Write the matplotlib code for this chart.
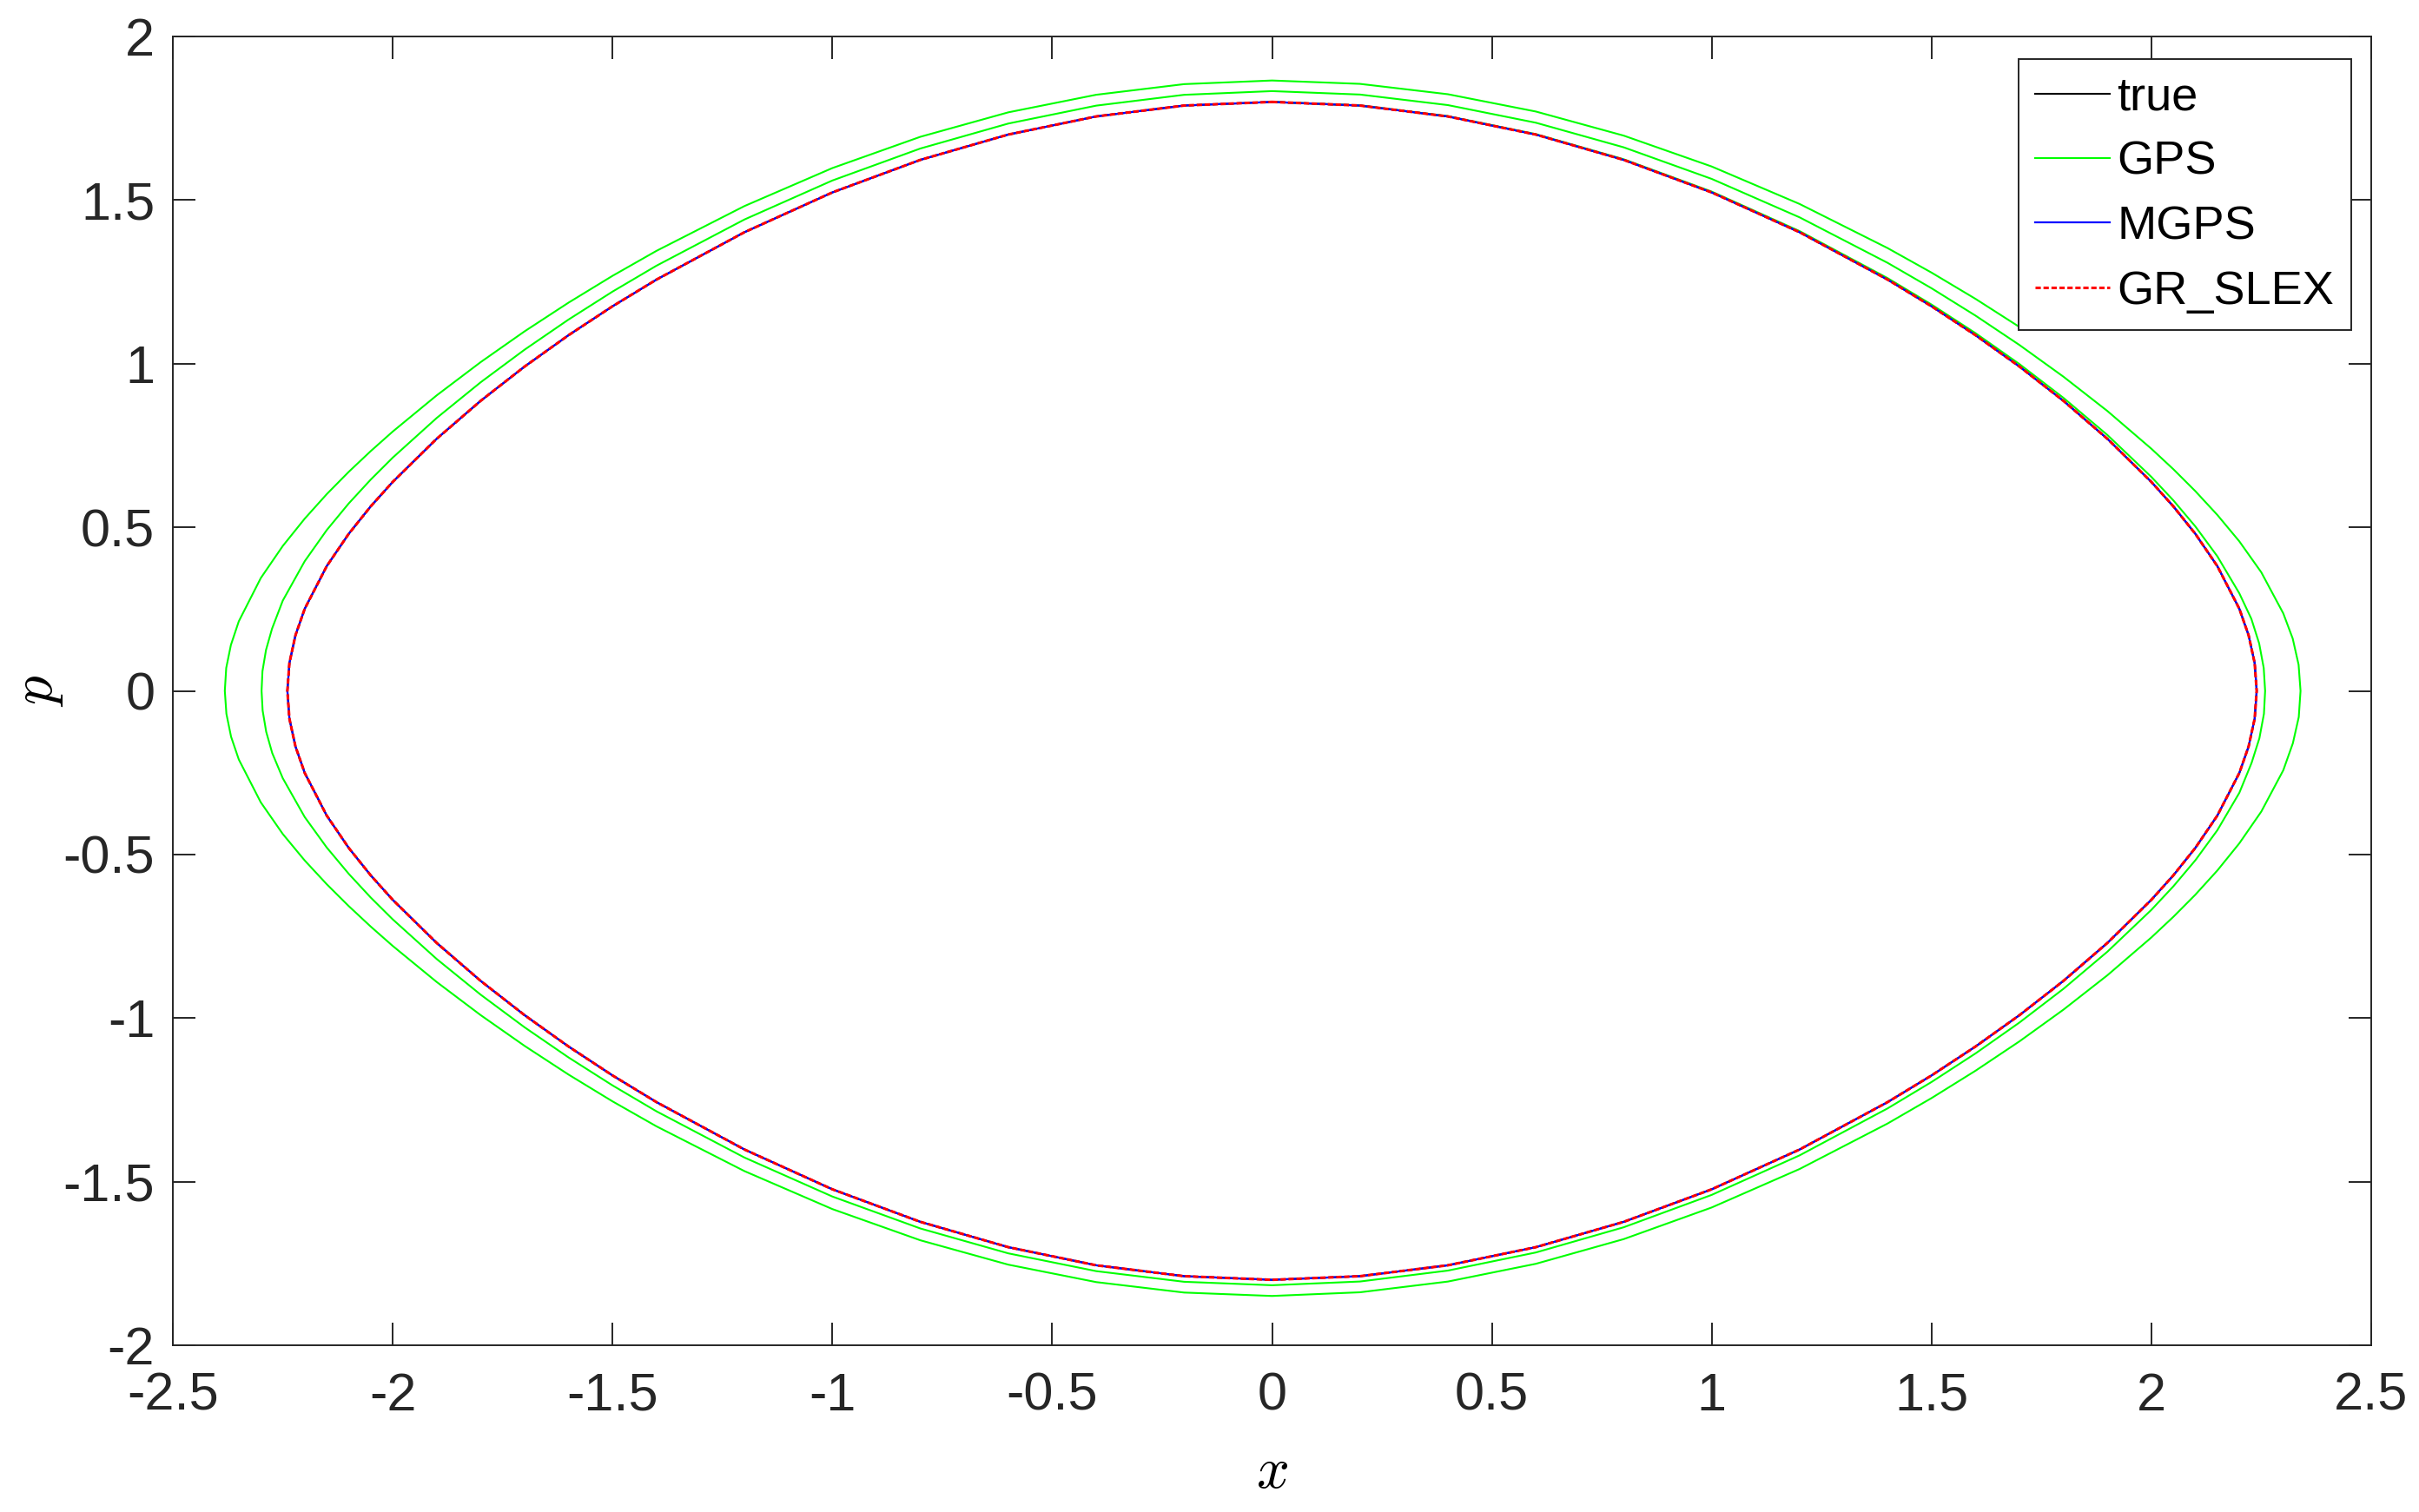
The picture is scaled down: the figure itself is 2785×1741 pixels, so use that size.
import matplotlib
matplotlib.use('Agg')
import matplotlib.pyplot as plt

# ---------------- data ----------------
# true orbit, closed loop, clockwise from the top point (0, 1.8)
true_x = [0, 0.2, 0.4, 0.6, 0.8, 1.0, 1.2, 1.4, 1.5, 1.6, 1.7, 1.8, 1.9, 2.0, 2.05, 2.1, 2.15, 2.2, 2.2211, 2.2349, 2.2395,
          2.2349, 2.2211, 2.2, 2.15, 2.1, 2.05, 2.0, 1.9, 1.8, 1.7, 1.6, 1.5, 1.4, 1.2, 1.0, 0.8, 0.6, 0.4, 0.2, 0,
          -0.2, -0.4, -0.6, -0.8, -1.0, -1.2, -1.4, -1.5, -1.6, -1.7, -1.8, -1.9, -2.0, -2.05, -2.1, -2.15, -2.2, -2.2211, -2.2349, -2.2395,
          -2.2349, -2.2211, -2.2, -2.15, -2.1, -2.05, -2.0, -1.9, -1.8, -1.7, -1.6, -1.5, -1.4, -1.2, -1.0, -0.8, -0.6, -0.4, -0.2, 0]
true_p = [1.8, 1.78889, 1.7556, 1.7002, 1.62278, 1.52335, 1.40168, 1.25695, 1.17536, 1.08701, 0.99112, 0.88634, 0.77034, 0.63852, 0.56379, 0.4799, 0.38117, 0.25099, 0.17, 0.085, 0,
          -0.085, -0.17, -0.25099, -0.38117, -0.4799, -0.56379, -0.63852, -0.77034, -0.88634, -0.99112, -1.08701, -1.17536, -1.25695, -1.40168, -1.52335, -1.62278, -1.7002, -1.7556, -1.78889, -1.8,
          -1.78889, -1.7556, -1.7002, -1.62278, -1.52335, -1.40168, -1.25695, -1.17536, -1.08701, -0.99112, -0.88634, -0.77034, -0.63852, -0.56379, -0.4799, -0.38117, -0.25099, -0.17, -0.085, 0,
          0.085, 0.17, 0.25099, 0.38117, 0.4799, 0.56379, 0.63852, 0.77034, 0.88634, 0.99112, 1.08701, 1.17536, 1.25695, 1.40168, 1.52335, 1.62278, 1.7002, 1.7556, 1.78889, 1.8]

# MGPS and GR_SLEX lie on top of the true orbit in the picture
mgps_x = list(true_x)
mgps_p = list(true_p)
grslex_x = list(true_x)
grslex_p = list(true_p)

# GPS: slowly outward drifting spiral, clockwise from (0, 1.8), ends near (1.71, 1.10)
gps_x = [0, 0.2, 0.4, 0.6, 0.8, 1.0, 1.2, 1.4, 1.5, 1.6, 1.7, 1.8, 1.9, 2.0, 2.05, 2.1, 2.15, 2.2, 2.2274, 2.2451, 2.2555, 2.2587,
         2.256, 2.2456, 2.2279, 2.2, 2.15, 2.1, 2.05, 2.0, 1.9, 1.8, 1.7, 1.6, 1.5, 1.4, 1.2, 1.0, 0.8, 0.6, 0.4, 0.2, 0,
         -0.2, -0.4, -0.6, -0.8, -1.0, -1.2, -1.4, -1.5, -1.6, -1.7, -1.8, -1.9, -2.0, -2.05, -2.1, -2.15, -2.2, -2.25, -2.274, -2.2877, -2.2958, -2.2982,
         -2.2962, -2.2881, -2.2744, -2.25, -2.2, -2.15, -2.1, -2.05, -2.0, -1.9, -1.8, -1.7, -1.6, -1.5, -1.4, -1.2, -1.0, -0.8, -0.6, -0.4, -0.2, 0,
         0.2, 0.4, 0.6, 0.8, 1.0, 1.2, 1.4, 1.5, 1.6, 1.7, 1.8, 1.9, 2.0, 2.05, 2.1, 2.15, 2.2, 2.25, 2.3, 2.3214, 2.3348, 2.3392,
         2.3352, 2.3218, 2.3, 2.25, 2.2, 2.15, 2.1, 2.05, 2.0, 1.9, 1.8, 1.7, 1.6, 1.5, 1.4, 1.2, 1.0, 0.8, 0.6, 0.4, 0.2, 0,
         -0.2, -0.4, -0.6, -0.8, -1.0, -1.2, -1.4, -1.5, -1.6, -1.7, -1.8, -1.9, -2.0, -2.05, -2.1, -2.15, -2.2, -2.25, -2.3, -2.35, -2.3676, -2.3782, -2.3818,
         -2.3786, -2.368, -2.35, -2.3, -2.25, -2.2, -2.15, -2.1, -2.05, -2.0, -1.9, -1.8, -1.7, -1.6, -1.5, -1.4, -1.2, -1.0, -0.8, -0.6, -0.4, -0.2, 0,
         0.2, 0.4, 0.6, 0.8, 1.0, 1.2, 1.4, 1.5, 1.6, 1.71]
gps_p = [1.8, 1.7893, 1.75645, 1.70152, 1.62464, 1.52587, 1.40505, 1.26149, 1.18068, 1.0933, 0.99864, 0.89552, 0.78193, 0.65384, 0.58212, 0.50256, 0.41127, 0.29809, 0.22, 0.145, 0.07, 0,
         -0.07, -0.145, -0.22, -0.31167, -0.42594, -0.51773, -0.59737, -0.66926, -0.79713, -0.91063, -1.01358, -1.1081, -1.19539, -1.27612, -1.4196, -1.54043, -1.63932, -1.71645, -1.77176, -1.80517, -1.81659,
         -1.80599, -1.77344, -1.71906, -1.643, -1.54541, -1.42625, -1.28506, -1.20582, -1.12041, -1.02825, -0.92842, -0.8194, -0.69822, -0.63155, -0.55908, -0.47869, -0.38582, -0.26693, -0.19, -0.125, -0.06, 0,
         0.06, 0.125, 0.19, 0.27578, 0.39641, 0.49135, 0.57276, 0.64565, 0.71268, 0.83392, 0.94299, 1.04275, 1.13485, 1.22023, 1.29942, 1.44058, 1.55979, 1.65752, 1.73384, 1.78861, 1.82172, 1.83303,
         1.82253, 1.79028, 1.73642, 1.66116, 1.5647, 1.44713, 1.30819, 1.23045, 1.14687, 1.05702, 0.96019, 0.85523, 0.73994, 0.67739, 0.61038, 0.53773, 0.45701, 0.36229, 0.23674, 0.16, 0.08, 0,
         -0.08, -0.16, -0.24259, -0.36886, -0.46598, -0.54902, -0.62294, -0.69055, -0.7536, -0.86915, -0.97429, -1.07114, -1.16098, -1.24457, -1.32231, -1.46125, -1.5789, -1.67552, -1.75105, -1.80531, -1.83811, -1.84932,
         -1.83892, -1.80696, -1.75361, -1.67912, -1.58376, -1.46771, -1.33093, -1.25459, -1.17274, -1.08503, -0.99094, -0.88962, -0.77943, -0.72032, -0.6577, -0.59089, -0.51852, -0.43733, -0.34066, -0.2097, -0.14, -0.07, 0,
         0.07, 0.14, 0.21254, 0.34474, 0.44278, 0.52644, 0.60119, 0.66937, 0.7327, 0.79241, 0.90301, 1.00461, 1.09879, 1.18654, 1.26845, 1.3448, 1.48164, 1.59779, 1.69333, 1.7681, 1.82185, 1.85436, 1.86548,
         1.85516, 1.82349, 1.77064, 1.6969, 1.60259, 1.48801, 1.35328, 1.27828, 1.19805, 1.1035]

series_labels = ['true', 'GPS', 'MGPS', 'GR_SLEX']
x_ticks = [-2.5, -2, -1.5, -1, -0.5, 0, 0.5, 1, 1.5, 2, 2.5]
x_tick_labels = ['-2.5', '-2', '-1.5', '-1', '-0.5', '0', '0.5', '1', '1.5', '2', '2.5']
y_ticks = [-2, -1.5, -1, -0.5, 0, 0.5, 1, 1.5, 2]
y_tick_labels = ['-2', '-1.5', '-1', '-0.5', '0', '0.5', '1', '1.5', '2']

# ---------------- style ----------------
plt.rcParams['font.family'] = ['Liberation Sans', 'DejaVu Sans']
plt.rcParams['mathtext.fontset'] = 'cm'
plt.rcParams['axes.unicode_minus'] = False

W, H = 2785, 1741
fig = plt.figure(figsize=(W / 100, H / 100), dpi=100)
ax = fig.add_axes([199 / W, (H - 1549) / H, (2730 - 199) / W, (1549 - 42) / H])

dark = '#262626'
ax.plot(true_x, true_p, color='black', lw=1.5, label=series_labels[0])
ax.plot(gps_x, gps_p, color=(0, 1, 0), lw=1.5, label=series_labels[1])
ax.plot(mgps_x, mgps_p, color=(0, 0, 1), lw=1.6, label=series_labels[2])
ax.plot(grslex_x, grslex_p, color=(1, 0, 0), lw=2.2, linestyle=(0, (2.0, 1.0)), label=series_labels[3])

ax.set_xlim(-2.5, 2.5)
ax.set_ylim(-2, 2)
ax.set_xticks(x_ticks)
ax.set_xticklabels(x_tick_labels)
ax.set_yticks(y_ticks)
ax.set_yticklabels(y_tick_labels)

ax.tick_params(axis='both', which='major', direction='in', length=19, width=1.4,
               top=True, right=True, labelsize=44, colors=dark, labelcolor='#262626')
ax.tick_params(axis='x', pad=22)
ax.tick_params(axis='y', pad=15)
for s in ax.spines.values():
    s.set_color(dark)
    s.set_linewidth(1.4)

ax.set_xlabel('$x$', fontsize=48)
ax.xaxis.label.set_va('center')
ax.xaxis.set_label_coords(0.5, -0.0975)
ax.set_ylabel('$p$', fontsize=48)
ax.yaxis.label.set_va('center')
ax.yaxis.label.set_ha('center')
ax.yaxis.set_label_coords(-0.0612, 0.5)

leg = ax.legend(loc='upper right', bbox_to_anchor=(0.9909, 0.9827), borderaxespad=0,
                fancybox=False, edgecolor=dark, framealpha=1, fontsize=39,
                handlelength=1.59, handletextpad=0.15, labelspacing=0.45, borderpad=0.36)
leg.get_frame().set_linewidth(1.4)

fig.savefig('out.png', dpi=100, facecolor='white')
